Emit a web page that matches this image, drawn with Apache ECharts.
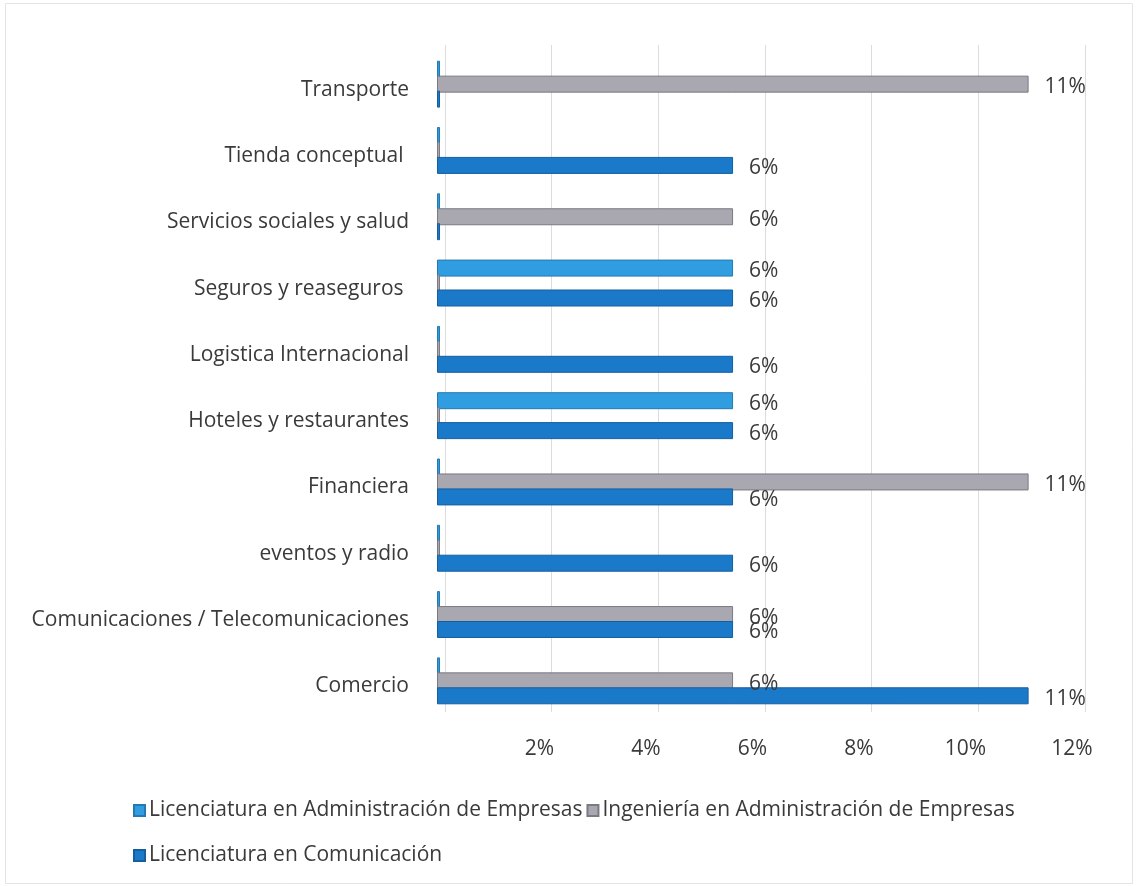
<!DOCTYPE html>
<html>
<head>
<meta charset="utf-8">
<script src="https://cdn.jsdelivr.net/npm/echarts@6/dist/echarts.min.js"></script>
<style>
  html, body { margin: 0; padding: 0; background: #ffffff; }
  #chart { width: 1139px; height: 886px; }
</style>
</head>
<body>
<div id="chart"></div>
<script>
// Sectors, listed bottom to top as they sit on the category axis
const categories = [
  'Comercio',
  'Comunicaciones / Telecomunicaciones',
  'eventos y radio',
  'Financiera',
  'Hoteles y restaurantes',
  'Logistica Internacional',
  'Seguros y reaseguros ',
  'Servicios sociales y salud',
  'Tienda conceptual ',
  'Transporte'
];

// Share of graduates per sector (%), one array per programme
const licAdministracion = [0, 0, 0, 0, 5.56, 0, 5.56, 0, 0, 0];
const ingAdministracion = [5.56, 5.56, 0, 11.11, 0, 0, 0, 5.56, 0, 11.11];
const licComunicacion   = [11.11, 5.56, 5.56, 5.56, 5.56, 5.56, 5.56, 0, 5.56, 0];

const seriesNames = [
  'Licenciatura en Administración de Empresas',
  'Ingeniería en Administración de Empresas',
  'Licenciatura en Comunicación'
];

const xTicks = [0, 2, 4, 6, 8, 10, 12];

const FONT = 'Open Sans';
const SIZE = 21;
const TEXT = '#3a3a3a';

function barSeries(name, data, color, edge) {
  return {
    name: name,
    type: 'bar',
    data: data,
    barWidth: 17,
    barGap: '-12%',
    barCategoryGap: '28%',
    barMinHeight: 3,
    itemStyle: { color: color, borderColor: edge, borderWidth: 1 },
    label: {
      show: true,
      position: 'right',
      distance: 16,
      offset: [0, 3],
      fontFamily: FONT,
      fontSize: SIZE,
      color: TEXT,
      formatter: p => (p.value > 0 ? Math.round(p.value) + '%' : '')
    }
  };
}

const legendText = { fontFamily: FONT, fontSize: SIZE, color: TEXT, padding: [0, 0, 0, -1] };

const chart = echarts.init(document.getElementById('chart'));
chart.setOption({
  backgroundColor: '#ffffff',
  animation: false,
  textStyle: { fontFamily: FONT },
  graphic: [{
    type: 'rect',
    shape: { x: 5.5, y: 3.5, width: 1127, height: 880 },
    style: { fill: 'none', stroke: '#e4e4e4', lineWidth: 1 },
    silent: true
  }],
  legend: [{
    data: [seriesNames[0], seriesNames[1]],
    left: 128,
    top: 795,
    itemWidth: 11,
    itemHeight: 11,
    itemGap: 4,
    icon: 'rect',
    textStyle: legendText
  }, {
    data: [seriesNames[2]],
    left: 128,
    top: 840,
    itemWidth: 11,
    itemHeight: 11,
    icon: 'rect',
    textStyle: legendText
  }],
  grid: [
    { left: 437, right: 63, top: 51, bottom: 172 },
    // back wall of the plot, slightly offset to give the depth look
    { left: 445, right: 54, top: 45, bottom: 174 }
  ],
  xAxis: [{
    gridIndex: 0,
    type: 'value',
    min: xTicks[0],
    max: xTicks[xTicks.length - 1],
    interval: 2,
    axisLine: { show: false },
    axisTick: { show: false },
    splitLine: { show: false },
    axisLabel: {
      margin: 25,
      fontFamily: FONT,
      fontSize: SIZE,
      color: TEXT,
      formatter: v => (v === 0 ? '' : '{t|' + v + '%}'),
      rich: { t: { fontFamily: FONT, fontSize: SIZE, color: TEXT, padding: [0, 8, 0, 0] } }
    }
  }, {
    gridIndex: 1,
    type: 'value',
    min: xTicks[0],
    max: xTicks[xTicks.length - 1],
    interval: 2,
    axisLine: { show: false },
    axisTick: { show: false },
    axisLabel: { show: false },
    splitLine: { show: true, lineStyle: { color: '#dcdcdc', width: 1 } }
  }],
  yAxis: [{
    gridIndex: 0,
    type: 'category',
    data: categories,
    axisLine: { show: false },
    axisTick: { show: false },
    axisLabel: {
      margin: 28,
      fontFamily: FONT,
      fontSize: SIZE,
      color: TEXT,
      formatter: v => '{c|' + v + '}',
      rich: { c: { fontFamily: FONT, fontSize: SIZE, color: TEXT, padding: [11, 0, 0, 0] } }
    }
  }, {
    gridIndex: 1,
    type: 'category',
    data: categories,
    show: false
  }],
  // Within each group the first series sits on top
  series: [
    barSeries(seriesNames[0], licAdministracion, '#2f9de0', '#2379b0'),
    barSeries(seriesNames[1], ingAdministracion, '#a9a7b0', '#7b7982'),
    barSeries(seriesNames[2], licComunicacion, '#1b79c9', '#155f9f')
  ]
});
</script>
</body>
</html>
